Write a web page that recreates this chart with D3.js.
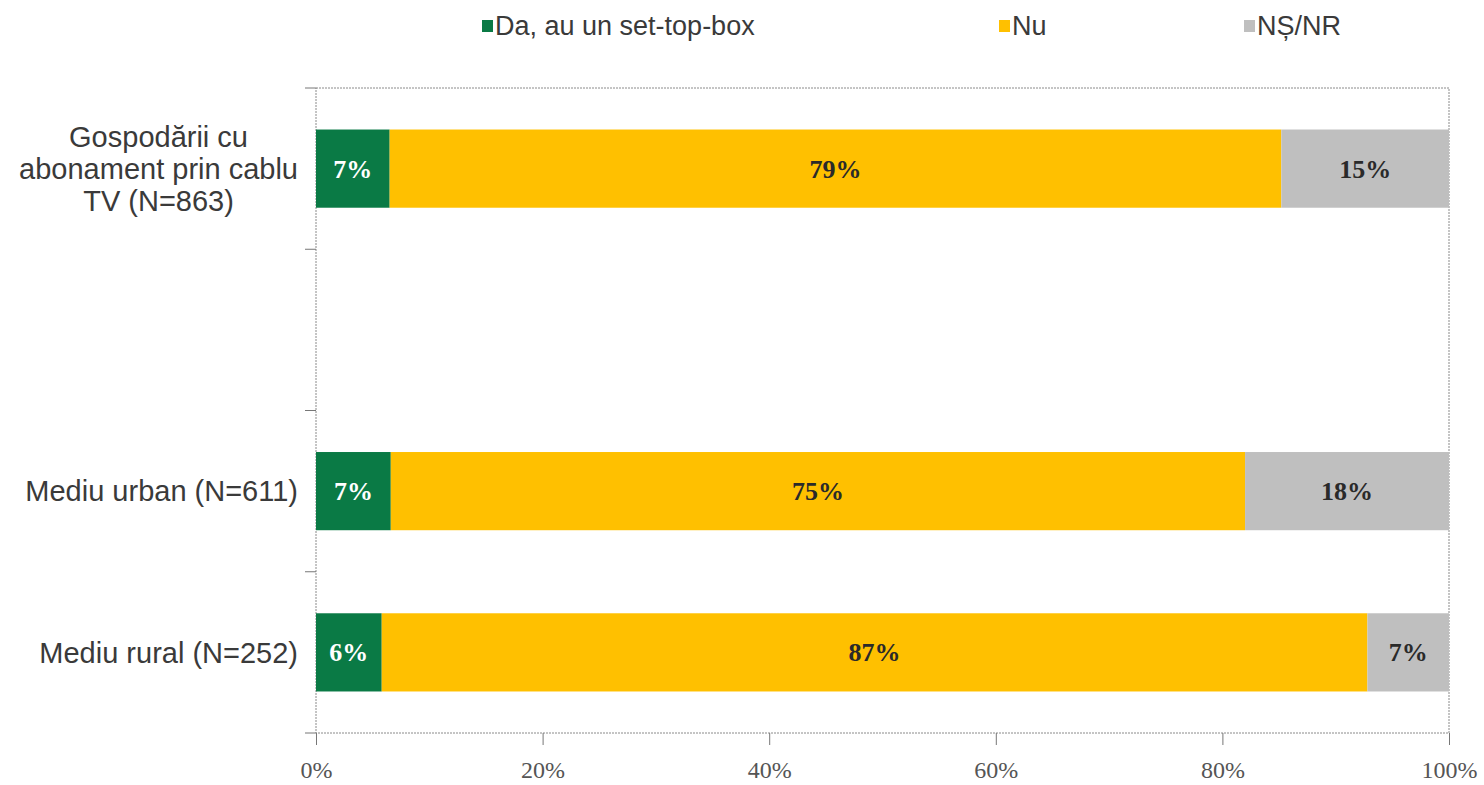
<!DOCTYPE html>
<html>
<head>
<meta charset="utf-8">
<script src="https://cdn.jsdelivr.net/npm/d3@7"></script>
<style>
  body { margin: 0; background: #fff; }
  svg { display: block; }
</style>
</head>
<body>
<svg id="chart" width="1484" height="785"></svg>
<script>
// categories (empty slot kept, as in the original chart)
var categories = ['cablu', 'gol', 'urban', 'rural'];
var categoryLabels = [
  ['Gospodării cu', 'abonament prin cablu', 'TV (N=863)'],
  [],
  ['Mediu urban (N=611)'],
  ['Mediu rural (N=252)']
];
var seriesNames = ['Da, au un set-top-box', 'Nu', 'NȘ/NR'];
var seriesColors = ['#0a7a45', '#ffc000', '#bfbfbf'];
var labelColors = ['#ffffff', '#2a2a2a', '#2a2a2a'];

var daValues = [6.5, null, 6.6, 5.8];
var nuValues = [78.7, null, 75.4, 87.0];
var nsnrValues = [14.8, null, 18.0, 7.2];
var displayLabels = [
  ['7%', '79%', '15%'],
  null,
  ['7%', '75%', '18%'],
  ['6%', '87%', '7%']
];
var xTicks = [0, 20, 40, 60, 80, 100];

var svg = d3.select('#chart');

var margin = { left: 316, right: 1449, top: 88, bottom: 733 };

var x = d3.scaleLinear().domain([0, 100]).range([margin.left, margin.right]);
var y = d3.scaleBand().domain(categories).range([margin.top, margin.bottom]);
var bw = y.bandwidth();
var barH = bw * 0.485;

// rows for stacking
var rows = categories.map(function (c, i) {
  return { cat: c, i: i, v: [daValues[i], nuValues[i], nsnrValues[i]] };
}).filter(function (r) { return r.v[0] != null; });

var segs = [];
rows.forEach(function (r) {
  var acc = 0;
  r.v.forEach(function (v, k) {
    segs.push({ cat: r.cat, i: r.i, k: k, x0: acc, x1: acc + v });
    acc += v;
  });
});

/**
 * plot frame (dotted grey)
 */
svg.append('rect')
  .attr('x', margin.left)
  .attr('y', margin.top)
  .attr('width', margin.right - margin.left)
  .attr('height', margin.bottom - margin.top)
  .attr('fill', 'none')
  .attr('stroke', '#8a8a8a')
  .attr('stroke-width', 1)
  .attr('stroke-dasharray', '2,1');

// bars
svg.append('g')
  .selectAll('rect')
  .data(segs)
  .enter()
  .append('rect')
  .attr('x', function (d) { return x(d.x0); })
  .attr('width', function (d) { return x(d.x1) - x(d.x0); })
  .attr('y', function (d) { return y(d.cat) + (bw - barH) / 2; })
  .attr('height', barH)
  .attr('fill', function (d) { return seriesColors[d.k]; });

// value labels
svg.append('g')
  .selectAll('text')
  .data(segs)
  .enter()
  .append('text')
  .attr('x', function (d) { return x((d.x0 + d.x1) / 2); })
  .attr('y', function (d) { return y(d.cat) + bw / 2; })
  .attr('dy', '0.35em')
  .attr('text-anchor', 'middle')
  .style('font-family', '"Liberation Serif", "DejaVu Serif", serif')
  .style('font-weight', 'bold')
  .style('font-size', '26px')
  .attr('fill', function (d) { return labelColors[d.k]; })
  .text(function (d) { return displayLabels[d.i][d.k]; });

// left axis ticks at band edges
var yEdges = categories.map(function (c) { return y(c); }).concat([margin.bottom]);
svg.append('g')
  .selectAll('line')
  .data(yEdges)
  .enter()
  .append('line')
  .attr('x1', margin.left - 11)
  .attr('x2', margin.left)
  .attr('y1', function (d) { return d; })
  .attr('y2', function (d) { return d; })
  .attr('stroke', '#777');

// category labels
var catG = svg.append('g')
  .style('font-family', '"Liberation Sans", Arial, sans-serif')
  .style('font-size', '29px')
  .attr('fill', '#3a3a3a');

categories.forEach(function (c, i) {
  var lines = categoryLabels[i];
  if (!lines.length) return;
  var cy = y(c) + bw / 2;
  var lh = 32;
  var t = catG.append('text')
    .attr('text-anchor', lines.length > 1 ? 'middle' : 'end');
  lines.forEach(function (ln, j) {
    t.append('tspan')
      .attr('x', 298)
      .attr('y', cy + (j - (lines.length - 1) / 2) * lh)
      .attr('dy', '0.35em')
      .text(ln);
  });
  if (lines.length > 1) {
    var maxW = 0;
    t.selectAll('tspan').each(function () {
      maxW = Math.max(maxW, this.getComputedTextLength());
    });
    t.selectAll('tspan').attr('x', 298 - maxW / 2);
  }
});

// bottom axis
var xAxis = d3.axisBottom(x)
  .tickValues(xTicks)
  .tickSize(12)
  .tickPadding(16)
  .tickFormat(function (d) { return d + '%'; });

var xg = svg.append('g')
  .attr('transform', 'translate(0,' + margin.bottom + ')')
  .call(xAxis);

xg.select('.domain').remove();
xg.selectAll('.tick line').attr('stroke', '#777');
xg.selectAll('.tick text')
  .style('font-family', '"Liberation Serif", "DejaVu Serif", serif')
  .style('font-size', '24px')
  .attr('fill', '#555');

// legend
var legendX = [482, 999, 1244];
var legend = svg.append('g')
  .selectAll('g')
  .data(seriesNames)
  .enter()
  .append('g')
  .attr('transform', function (d, i) { return 'translate(' + legendX[i] + ',26)'; });

legend.append('rect')
  .attr('x', 0)
  .attr('y', -6)
  .attr('width', 11)
  .attr('height', 12)
  .attr('fill', function (d, i) { return seriesColors[i]; });

legend.append('text')
  .attr('x', 13)
  .attr('dy', '0.35em')
  .style('font-family', '"Liberation Sans", Arial, sans-serif')
  .style('font-size', '27px')
  .attr('fill', '#3a3a3a')
  .text(function (d) { return d; });
</script>
</body>
</html>
